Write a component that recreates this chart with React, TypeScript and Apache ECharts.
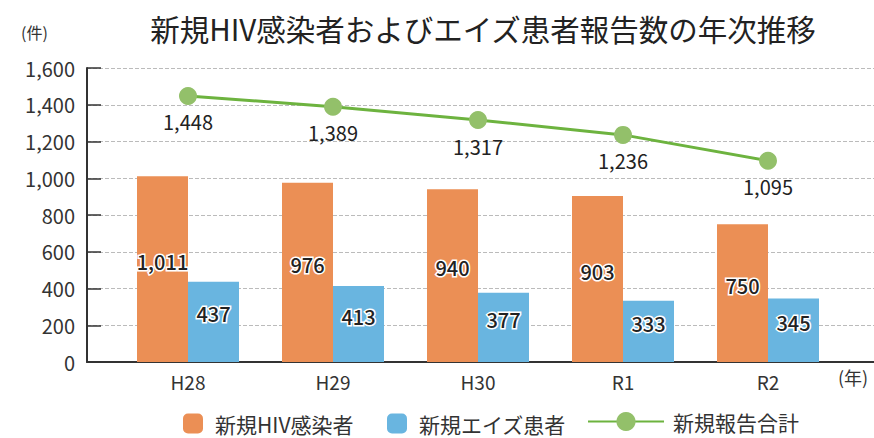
import React, { useEffect, useRef } from "react";
import * as echarts from "echarts";

const categories = ["H28", "H29", "H30", "R1", "R2"];
const hivValues = [1011, 976, 940, 903, 750];
const aidsValues = [437, 413, 377, 333, 345];
const totalValues = [1448, 1389, 1317, 1236, 1095];
const seriesNames = ["新規HIV感染者", "新規エイズ患者", "新規報告合計"];
const titleText = "新規HIV感染者およびエイズ患者報告数の年次推移";

const FONT = "'Noto Sans CJK JP', 'Noto Sans', sans-serif";

export default function App() {
  const ref = useRef<HTMLDivElement>(null);
  useEffect(() => {
    if (!ref.current) return;
    const chart = echarts.init(ref.current, undefined, { renderer: "svg" });
    const grids = { top: 68, bottom: 76 };
    const barLabel = {
      show: true,
      position: "inside",
      offset: [0, -8],
      color: "#222",
      fontSize: 20,
      fontWeight: 500,
      fontFamily: FONT,
      textBorderColor: "#fff",
      textBorderWidth: 3,
      formatter: (p: any) => p.value.toLocaleString("en-US"),
    };
    const legendText = {
      fontSize: 21,
      lineHeight: 21,
      color: "#333",
      fontFamily: FONT,
      padding: [0, 0, 0, 7],
    };
    chart.setOption({
      animation: false,
      textStyle: { fontFamily: FONT },
      title: {
        text: titleText,
        left: 478,
        textAlign: "center",
        top: 8,
        textStyle: { fontSize: 29.5, fontWeight: "normal", color: "#222", fontFamily: FONT },
      },
      graphic: [
        { type: "text", left: 21, top: 24, style: { text: "(件)", fontSize: 16, fill: "#333", fontFamily: FONT } },
        { type: "text", left: 838, top: 368, style: { text: "(年)", fontSize: 18, fill: "#333", fontFamily: FONT } },
      ],
      legend: [
        {
          left: 183, top: 413, padding: 0, itemWidth: 20, itemHeight: 20, data: [seriesNames[0]],
          textStyle: legendText,
        },
        {
          left: 387, top: 413, padding: 0, itemWidth: 20, itemHeight: 20, data: [seriesNames[1]],
          textStyle: legendText,
        },
        {
          left: 587, top: 411, padding: 0, itemWidth: 76, itemHeight: 24, data: [seriesNames[2]],
          textStyle: { ...legendText, padding: [0, 0, 0, 4] },
        },
      ],
      grid: [
        { left: 115.5, right: 33.5, ...grids },
        { left: 87, right: 0, ...grids },
      ],
      xAxis: [
        {
          type: "category",
          gridIndex: 0,
          data: categories,
          axisLine: { show: false },
          axisTick: { show: true, inside: true, alignWithLabel: true, length: 6, lineStyle: { color: "#333", width: 1.5 } },
          axisLabel: { fontSize: 19, color: "#333", margin: 10, fontFamily: FONT },
        },
        {
          type: "value",
          gridIndex: 1,
          min: 0,
          max: 1,
          axisLine: { show: true, lineStyle: { color: "#333", width: 2 } },
          axisTick: { show: false },
          axisLabel: { show: false },
          splitLine: { show: false },
        },
      ],
      yAxis: [
        {
          type: "value",
          gridIndex: 0,
          min: 0,
          max: 1600,
          interval: 200,
          show: false,
        },
        {
          type: "value",
          gridIndex: 1,
          min: 0,
          max: 1600,
          interval: 200,
          axisLine: { show: true, lineStyle: { color: "#333", width: 2 } },
          axisTick: { show: true, inside: true, length: 14, lineStyle: { color: "#333", width: 1.5 } },
          axisLabel: {
            fontSize: 20,
            color: "#333",
            margin: 12,
            fontFamily: FONT,
            formatter: (v: number) => v.toLocaleString("en-US"),
          },
          splitLine: { show: true, lineStyle: { type: "dashed", color: "#bbb", width: 1 } },
        },
      ],
      series: [
        {
          name: seriesNames[0],
          type: "bar",
          xAxisIndex: 0,
          yAxisIndex: 0,
          data: hivValues,
          barWidth: 51,
          barGap: "0%",
          itemStyle: { color: "#eb8f55" },
          label: barLabel,
        },
        {
          name: seriesNames[1],
          type: "bar",
          xAxisIndex: 0,
          yAxisIndex: 0,
          data: aidsValues,
          barWidth: 51,
          barGap: "0%",
          itemStyle: { color: "#69b5e0" },
          label: barLabel,
        },
        {
          name: seriesNames[2],
          type: "line",
          xAxisIndex: 0,
          yAxisIndex: 0,
          data: totalValues,
          symbol: "circle",
          symbolSize: 18,
          lineStyle: { color: "#6db33f", width: 3 },
          itemStyle: { color: "#93c06a" },
          label: {
            show: true,
            position: "bottom",
            distance: 7,
            fontSize: 20,
            color: "#222",
            fontFamily: FONT,
            formatter: (p: any) => p.value.toLocaleString("en-US"),
          },
        },
      ],
    });
    return () => chart.dispose();
  }, []);
  return (
    <div
      ref={ref}
      style={{ position: "fixed", left: 0, top: 0, width: 874, height: 438, background: "#fff" }}
    />
  );
}
